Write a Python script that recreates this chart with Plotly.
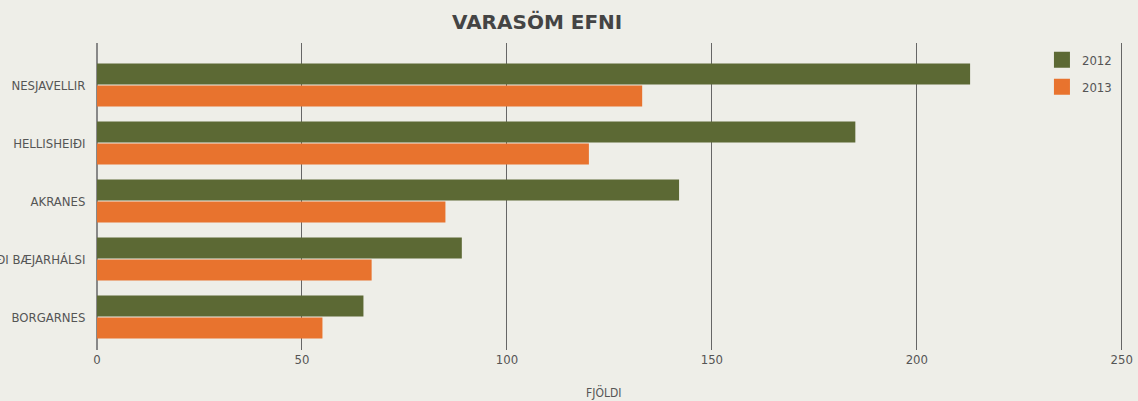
import plotly.graph_objects as go

categories = ["NESJAVELLIR", "HELLISHEIÐI", "AKRANES", "HÚSNÆÐI BÆJARHÁLSI", "BORGARNES"]
values_2012 = [213, 185, 142, 89, 65]
values_2013 = [133, 120, 85, 67, 55]
series_names = ["2012", "2013"]
x_ticks = [0, 50, 100, 150, 200, 250]

BG = "#EEEEE8"
GREEN = "#5C6934"
ORANGE = "#E8732E"
FONT = "DejaVu Sans Condensed, Liberation Sans Narrow, sans-serif"

fig = go.Figure()
for name, vals, col in [(series_names[0], values_2012, GREEN), (series_names[1], values_2013, ORANGE)]:
    fig.add_trace(go.Bar(y=categories, x=vals, name=name, orientation="h", showlegend=False,
                         marker=dict(color=col, line=dict(width=0))))
# legend entries with larger square swatches
for name, col in [(series_names[0], GREEN), (series_names[1], ORANGE)]:
    fig.add_trace(go.Scatter(x=[None], y=[None], mode="markers", name=name, legendgroup=name,
                             marker=dict(symbol="square", size=16, color=col)))

fig.update_layout(
    width=1138, height=401,
    paper_bgcolor=BG, plot_bgcolor=BG,
    margin=dict(l=97, r=15, t=43, b=51, autoexpand=False),
    barmode="group", bargap=0.24, bargroupgap=0.05,
    font=dict(family=FONT, size=13, color="#555555"),
    title=dict(text="<b>VARASÖM EFNI</b>", x=0.429, xref="paper", xanchor="center",
               y=0.945, yanchor="middle",
               font=dict(family="DejaVu Sans, sans-serif", size=20, color="#444444")),
    showlegend=True,
    legend=dict(x=0.921, y=0.994, xanchor="left", yanchor="top", bgcolor="rgba(0,0,0,0)",
                font=dict(size=13, color="#555555"), itemwidth=30, tracegroupgap=7),
    annotations=[dict(text="FJÖLDI", x=0.494, y=-0.137, xref="paper", yref="paper",
                      showarrow=False, xanchor="center", yanchor="middle",
                      font=dict(size=12, color="#555555"))],
)
fig.update_xaxes(
    range=[0, 250.3], tickvals=x_ticks, showgrid=True, gridcolor="#666666", gridwidth=1,
    zeroline=True, zerolinecolor="#888888", zerolinewidth=2, automargin=False,
    showline=False, ticks="", tickfont=dict(size=13, color="#555555"),
)
fig.update_yaxes(
    type="category", categoryorder="array", categoryarray=categories,
    range=[4.569, -0.724], automargin=False,
    showgrid=False, zeroline=False, showline=False,
    ticks="outside", ticklen=8, tickcolor=BG,
    tickfont=dict(size=13, color="#555555"),
)

fig.write_html("out.html", config={"displayModeBar": False},
               post_script="document.body.style.margin='0';document.body.style.overflow='hidden';")
